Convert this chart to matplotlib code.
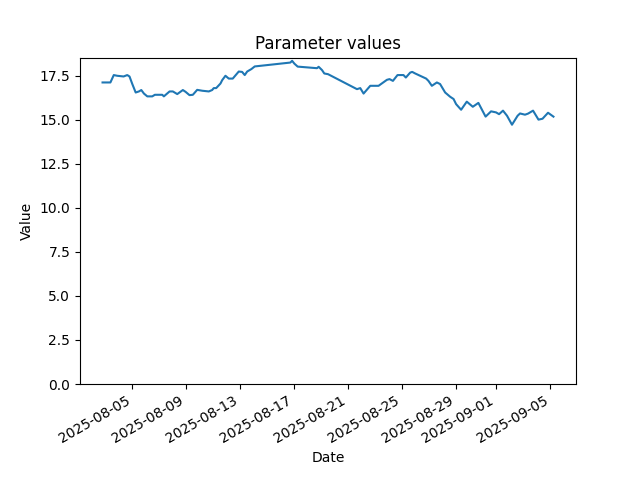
import matplotlib
matplotlib.use("Agg")
import matplotlib.pyplot as plt
import pandas as pd

dates = [
    "2025-08-02 19:00", "2025-08-03 09:00", "2025-08-03 15:00", "2025-08-03 21:00",
    "2025-08-04 08:30", "2025-08-04 15:00", "2025-08-04 19:00", "2025-08-05 00:00",
    "2025-08-05 06:00", "2025-08-05 11:45", "2025-08-05 16:00", "2025-08-05 20:40",
    "2025-08-06 02:40", "2025-08-06 11:30", "2025-08-06 16:10", "2025-08-07 05:20",
    "2025-08-07 08:10", "2025-08-07 18:20", "2025-08-08 00:10", "2025-08-08 08:00",
    "2025-08-08 18:00", "2025-08-08 22:45", "2025-08-09 05:50", "2025-08-09 11:45",
    "2025-08-09 19:30", "2025-08-10 04:30", "2025-08-10 16:10", "2025-08-10 22:10",
    "2025-08-11 01:00", "2025-08-11 05:20", "2025-08-11 13:00", "2025-08-11 16:00",
    "2025-08-11 21:50", "2025-08-12 03:45", "2025-08-12 10:50", "2025-08-12 21:30",
    "2025-08-13 03:30", "2025-08-13 08:10", "2025-08-13 12:30", "2025-08-13 20:00",
    "2025-08-14 02:00", "2025-08-16 17:25", "2025-08-16 20:30", "2025-08-17 00:30",
    "2025-08-17 06:25", "2025-08-18 16:50", "2025-08-18 19:45", "2025-08-19 01:50",
    "2025-08-19 05:50", "2025-08-19 12:30", "2025-08-21 16:00", "2025-08-21 21:50",
    "2025-08-22 03:45", "2025-08-22 15:40", "2025-08-23 06:25", "2025-08-23 21:20",
    "2025-08-24 02:00", "2025-08-24 08:00", "2025-08-24 16:10", "2025-08-25 02:50",
    "2025-08-25 07:00", "2025-08-25 14:45", "2025-08-25 18:20", "2025-08-25 23:40",
    "2025-08-26 19:10", "2025-08-26 23:15", "2025-08-27 05:20", "2025-08-27 14:15",
    "2025-08-27 20:00", "2025-08-28 05:00", "2025-08-28 13:50", "2025-08-28 20:00",
    "2025-08-29 00:30", "2025-08-29 09:25", "2025-08-29 19:30", "2025-08-30 06:15",
    "2025-08-30 16:10", "2025-08-31 05:00", "2025-08-31 14:45", "2025-08-31 23:40",
    "2025-09-01 05:00", "2025-09-01 12:00", "2025-09-01 19:10", "2025-09-02 04:00",
    "2025-09-02 14:00", "2025-09-02 18:20", "2025-09-03 03:10", "2025-09-03 08:30",
    "2025-09-03 17:30", "2025-09-04 03:10", "2025-09-04 10:20", "2025-09-04 20:10",
    "2025-09-05 05:50",
]
values = [
    17.12, 17.12, 17.54, 17.50, 17.46, 17.54, 17.46, 17.03,
    16.55, 16.61, 16.69, 16.49, 16.33, 16.33, 16.42, 16.42,
    16.33, 16.61, 16.61, 16.46, 16.69, 16.59, 16.40, 16.42,
    16.70, 16.65, 16.61, 16.69, 16.80, 16.80, 17.06, 17.25,
    17.50, 17.34, 17.34, 17.74, 17.72, 17.54, 17.74, 17.88,
    18.03, 18.25, 18.35, 18.19, 18.02, 17.93, 18.01, 17.82,
    17.63, 17.59, 16.74, 16.80, 16.49, 16.93, 16.93, 17.27,
    17.31, 17.21, 17.54, 17.54, 17.40, 17.68, 17.72, 17.63,
    17.34, 17.21, 16.93, 17.12, 17.03, 16.55, 16.31, 16.18,
    15.89, 15.57, 16.03, 15.74, 15.96, 15.18, 15.48, 15.42,
    15.32, 15.52, 15.23, 14.72, 15.23, 15.36, 15.29, 15.35,
    15.52, 15.01, 15.06, 15.40, 15.18,
]

x = pd.to_datetime(dates)

fig, ax = plt.subplots(figsize=(6.4, 4.8), dpi=100)
ax.plot(x, values)
ax.set_ylim(bottom=0)
ax.set_title("Parameter values")
ax.set_xlabel("Date")
ax.set_ylabel("Value")
fig.autofmt_xdate()
fig.savefig("out.png")
